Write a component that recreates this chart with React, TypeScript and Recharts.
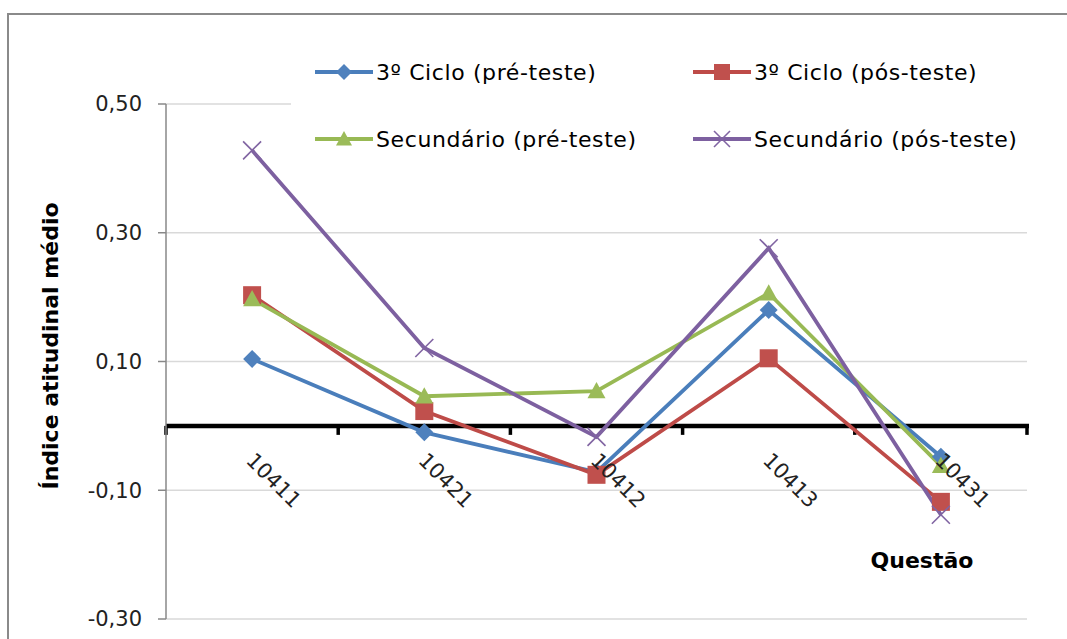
import React from "react";
import { LineChart, Line, XAxis, YAxis, CartesianGrid, ReferenceLine, Legend } from "recharts";

// questions on the x axis
const questions = ["10411", "10421", "10412", "10413", "10431"];

// mean attitude index per group
const ciclo3Pre = [0.104, -0.01, -0.072, 0.18, -0.048];
const ciclo3Pos = [0.203, 0.023, -0.076, 0.105, -0.118];
const secPre = [0.197, 0.046, 0.054, 0.206, -0.062];
const secPos = [0.428, 0.121, -0.017, 0.276, -0.138];

const yTicks = [-0.3, -0.1, 0.1, 0.3, 0.5];
const Y_MIN = -0.3;
const Y_MAX = 0.5;

const W = 1067;
const H = 639;
const PLOT_LEFT = 166;
const PLOT_RIGHT = 1027;
const PLOT_TOP = 104;
const PLOT_BOTTOM = 619;
const ZERO_Y = PLOT_TOP + (Y_MAX / (Y_MAX - Y_MIN)) * (PLOT_BOTTOM - PLOT_TOP);
// half a category band, so points sit in the middle of each band
const HALF_BAND = (PLOT_RIGHT - PLOT_LEFT) / questions.length / 2;

const FONT = "'DejaVu Sans', Verdana, sans-serif";

const series = [
  { key: "c3pre", name: "3º Ciclo (pré-teste)", values: ciclo3Pre, line: "#4A7EBB", fill: "#4F81BD", marker: "diamond" },
  { key: "c3pos", name: "3º Ciclo (pós-teste)", values: ciclo3Pos, line: "#BE4B48", fill: "#C0504D", marker: "square" },
  { key: "secPre", name: "Secundário (pré-teste)", values: secPre, line: "#98B954", fill: "#9BBB59", marker: "triangle" },
  { key: "secPos", name: "Secundário (pós-teste)", values: secPos, line: "#7D60A0", fill: "#8064A2", marker: "cross" },
];

const data = questions.map((q, i) => {
  const row: Record<string, any> = { q };
  series.forEach((s) => (row[s.key] = s.values[i]));
  return row;
});

function Marker({ type, cx, cy, color, s = 9 }: any) {
  if (type === "diamond")
    return <polygon points={`${cx},${cy - s} ${cx + s},${cy} ${cx},${cy + s} ${cx - s},${cy}`} fill={color} />;
  if (type === "square") return <rect x={cx - s} y={cy - s} width={s * 2} height={s * 2} fill={color} />;
  if (type === "triangle")
    return <polygon points={`${cx},${cy - s} ${cx + s},${cy + s * 0.8} ${cx - s},${cy + s * 0.8}`} fill={color} />;
  return (
    <g stroke={color} strokeWidth={1.6}>
      <line x1={cx - s} y1={cy - s} x2={cx + s} y2={cy + s} />
      <line x1={cx - s} y1={cy + s} x2={cx + s} y2={cy - s} />
    </g>
  );
}

const fmt = (v: number) => v.toFixed(2).replace(".", ",");

function QuestionTick(props: any) {
  const { x, payload } = props;
  const tx = x - 7;
  const ty = ZERO_Y + 36;
  return (
    <text x={tx} y={ty} transform={`rotate(45 ${tx} ${ty})`} fontFamily={FONT} fontSize={21} fill="#222" textAnchor="start">
      {payload.value}
    </text>
  );
}

// black axis through zero with tick marks between categories
function ZeroAxis(props: any) {
  const { x1, x2, y1 } = props;
  const step = (x2 - x1) / questions.length;
  const marks = questions.map((_, i) => x1 + i * step).concat([x2]);
  return (
    <g>
      <line x1={x1} x2={x2 + 2} y1={y1} y2={y1} stroke="#000" strokeWidth={4.5} />
      {marks.map((mx, i) => (
        <line key={i} x1={mx} x2={mx} y1={y1} y2={y1 + 9} stroke="#000" strokeWidth={3.5} />
      ))}
    </g>
  );
}

function YTitle() {
  return (
    <text x={50} y={346} transform="rotate(-90 50 346)" textAnchor="middle" dominantBaseline="central"
      fontFamily={FONT} fontWeight="bold" fontSize={22} fill="#000">
      Índice atitudinal médio
    </text>
  );
}

function XTitle() {
  return (
    <text x={922} y={568} textAnchor="middle" fontFamily={FONT} fontWeight="bold" fontSize={22} fill="#000">
      Questão
    </text>
  );
}

function LegendBox(props: any) {
  const { payload = [] } = props;
  return (
    <div style={{ position: "relative", width: 740, height: 118, background: "#fff" }}>
      {payload.map((entry: any, i: number) => {
        const s = series.find((x) => x.key === entry.dataKey) || series[i];
        const col = i % 2;
        const row = Math.floor(i / 2);
        return (
          <div key={s.key} style={{ position: "absolute", left: 24 + col * 378, top: 27 + row * 67 - 14, height: 28, display: "flex", alignItems: "center" }}>
            <svg width={58} height={28} style={{ display: "block" }}>
              <line x1={0} x2={58} y1={14} y2={14} stroke={s.line} strokeWidth={4} />
              <Marker type={s.marker} cx={29} cy={14} color={s.fill} s={8} />
            </svg>
            <span style={{ fontFamily: FONT, fontSize: 22, color: "#000", marginLeft: 3, whiteSpace: "nowrap", letterSpacing: 0.6 }}>
              {s.name}
            </span>
          </div>
        );
      })}
    </div>
  );
}

export default function App() {
  return (
    <div style={{ position: "absolute", left: 0, top: 0, width: W, height: H, overflow: "hidden", background: "#fff" }}>
      <div style={{ position: "absolute", left: 7, top: 13, width: W, height: H, borderLeft: "2px solid #8a8a8a", borderTop: "2px solid #8a8a8a" }} />
      <div style={{ position: "absolute", left: 0, top: 0 }}>
        <LineChart width={W} height={H} data={data} margin={{ top: PLOT_TOP, right: W - PLOT_RIGHT, bottom: H - PLOT_BOTTOM - 1, left: PLOT_LEFT - 60 }}>
          <CartesianGrid vertical={false} stroke="#d9d9d9" strokeWidth={1.5} />
          <XAxis
            dataKey="q"
            height={1}
            axisLine={false}
            tickLine={false}
            interval={0}
            padding={{ left: HALF_BAND, right: HALF_BAND }}
            tick={<QuestionTick />}
            label={<XTitle />}
          />
          <YAxis
            width={60}
            domain={[Y_MIN, Y_MAX]}
            ticks={yTicks}
            allowDataOverflow
            tickFormatter={fmt}
            axisLine={{ stroke: "#888", strokeWidth: 1.5 }}
            tickLine={{ stroke: "#888", strokeWidth: 1.5 }}
            tickSize={8}
            tickMargin={16}
            tick={{ fontFamily: FONT, fontSize: 21, fill: "#222" }}
            label={<YTitle />}
          />
          <ReferenceLine y={0} shape={<ZeroAxis />} ifOverflow="visible" />
          {series.map((s) => (
            <Line
              key={s.key}
              dataKey={s.key}
              name={s.name}
              stroke={s.line}
              strokeWidth={3.8}
              isAnimationActive={false}
              dot={(p: any) => <Marker key={`${s.key}-${p.index}`} type={s.marker} cx={p.cx} cy={p.cy} color={s.fill} />}
              activeDot={false}
            />
          ))}
          <Legend
            layout="horizontal"
            verticalAlign="middle"
            align="center"
            wrapperStyle={{ position: "absolute", left: 291, top: 45, width: 740, height: 118 }}
            content={<LegendBox />}
          />
        </LineChart>
      </div>
    </div>
  );
}
